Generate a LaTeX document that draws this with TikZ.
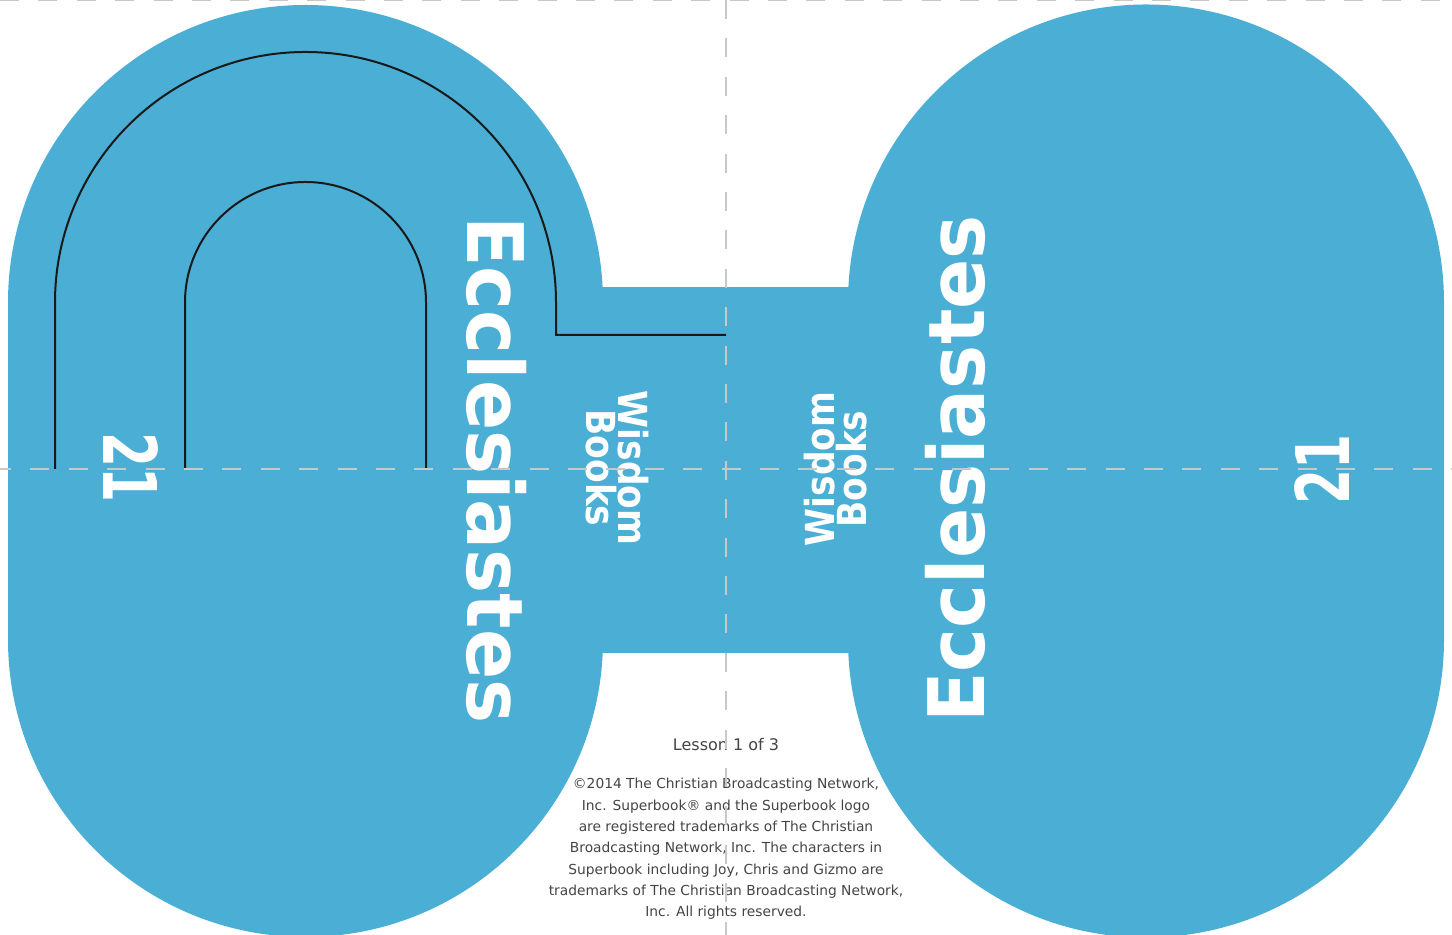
\documentclass[tikz,border=0pt]{standalone}
\usepackage{fontspec}
\setmainfont{DejaVu Sans}
\newfontfamily\titlefont[FakeStretch=0.95]{DejaVu Sans}
\newfontfamily\wisdomfont[FakeStretch=0.86]{DejaVu Sans}
\newfontfamily\numberfont[FakeStretch=0.68]{DejaVu Sans}
\definecolor{bookblue}{HTML}{4AAED5}
\definecolor{foldgray}{HTML}{C8C8C8}
\definecolor{creditgray}{HTML}{444444}

\begin{document}
\begin{tikzpicture}[
	x=0.5pt,
	y=0.5pt,
	panel/.style={
		fill=bookblue
	},
	cutline/.style={
		draw=black!90,
		line width=1pt
	},
	fold/.style={
		draw=foldgray,
		line width=1pt,
		dash pattern=on 9.5pt off 9.7pt
	},
	title/.style={
		text=white,
		inner sep=0pt,
		font=\titlefont\bfseries\fontsize{39}{39}\selectfont
	},
	wisdom/.style={
		text=white,
		align=center,
		inner sep=0pt,
		font=\wisdomfont\bfseries\fontsize{20}{16}\selectfont
	},
	number/.style={
		text=white,
		inner sep=0pt,
		font=\numberfont\bfseries\fontsize{37}{37}\selectfont
	},
	credit/.style={
		text=creditgray,
		align=center,
		inner sep=0pt
	},
]

\useasboundingbox (0,0) rectangle (1452,935);

% blue panels
\fill[panel] (8,295.5) -- (8,632.5) arc[start angle=180, end angle=0, radius=297.5]
	-- (603,295.5) arc[start angle=0, end angle=-180, radius=297.5] -- cycle;
\fill[panel] (848,295.5) -- (848,632.5) arc[start angle=180, end angle=0, radius=298]
	-- (1444,295.5) arc[start angle=0, end angle=-180, radius=298] -- cycle;
\fill[panel] (602,282) rectangle (849,648);

% cut lines
\draw[cutline] (55,466) -- (55,632.5) arc[start angle=180, end angle=0, radius=250.5]
	-- (556,600) -- (726,600);
\draw[cutline] (185,466) -- (185,632.5) arc[start angle=180, end angle=0, radius=120.5]
	-- (426,466);

% texts
\node[title, rotate=-90] (title_left) at (497,465) {Ecclesiastes};
\node[title, rotate=90] (title_right) at (955,466) {Ecclesiastes};
\node[wisdom, rotate=-90] (wisdom_left) at (617,467) {Wisdom\\Books};
\node[wisdom, rotate=90] (wisdom_right) at (836,466) {Wisdom\\Books};
\node[number, rotate=-90] (number_left) at (131,467) {21};
\node[number, rotate=90] (number_right) at (1322,465) {21};

\node[credit, font=\fontsize{8}{8}\selectfont] (lesson) at (726,190) {Lesson 1 of 3};
\node[credit, font=\fontsize{6.9}{10.65}\selectfont] (copyright) at (726,86) {%
	©2014 The Christian Broadcasting Network,\\
	Inc. Superbook® and the Superbook logo\\
	are registered trademarks of The Christian\\
	Broadcasting Network, Inc. The characters in\\
	Superbook including Joy, Chris and Gizmo are\\
	trademarks of The Christian Broadcasting Network,\\
	Inc. All rights reserved.};

% fold lines
\draw[fold, dash phase=4pt] (0,466) -- (1452,466);
\draw[fold] (0,935) -- (1452,935);
\draw[fold] (726,935) -- (726,0);

\end{tikzpicture}
\end{document}
